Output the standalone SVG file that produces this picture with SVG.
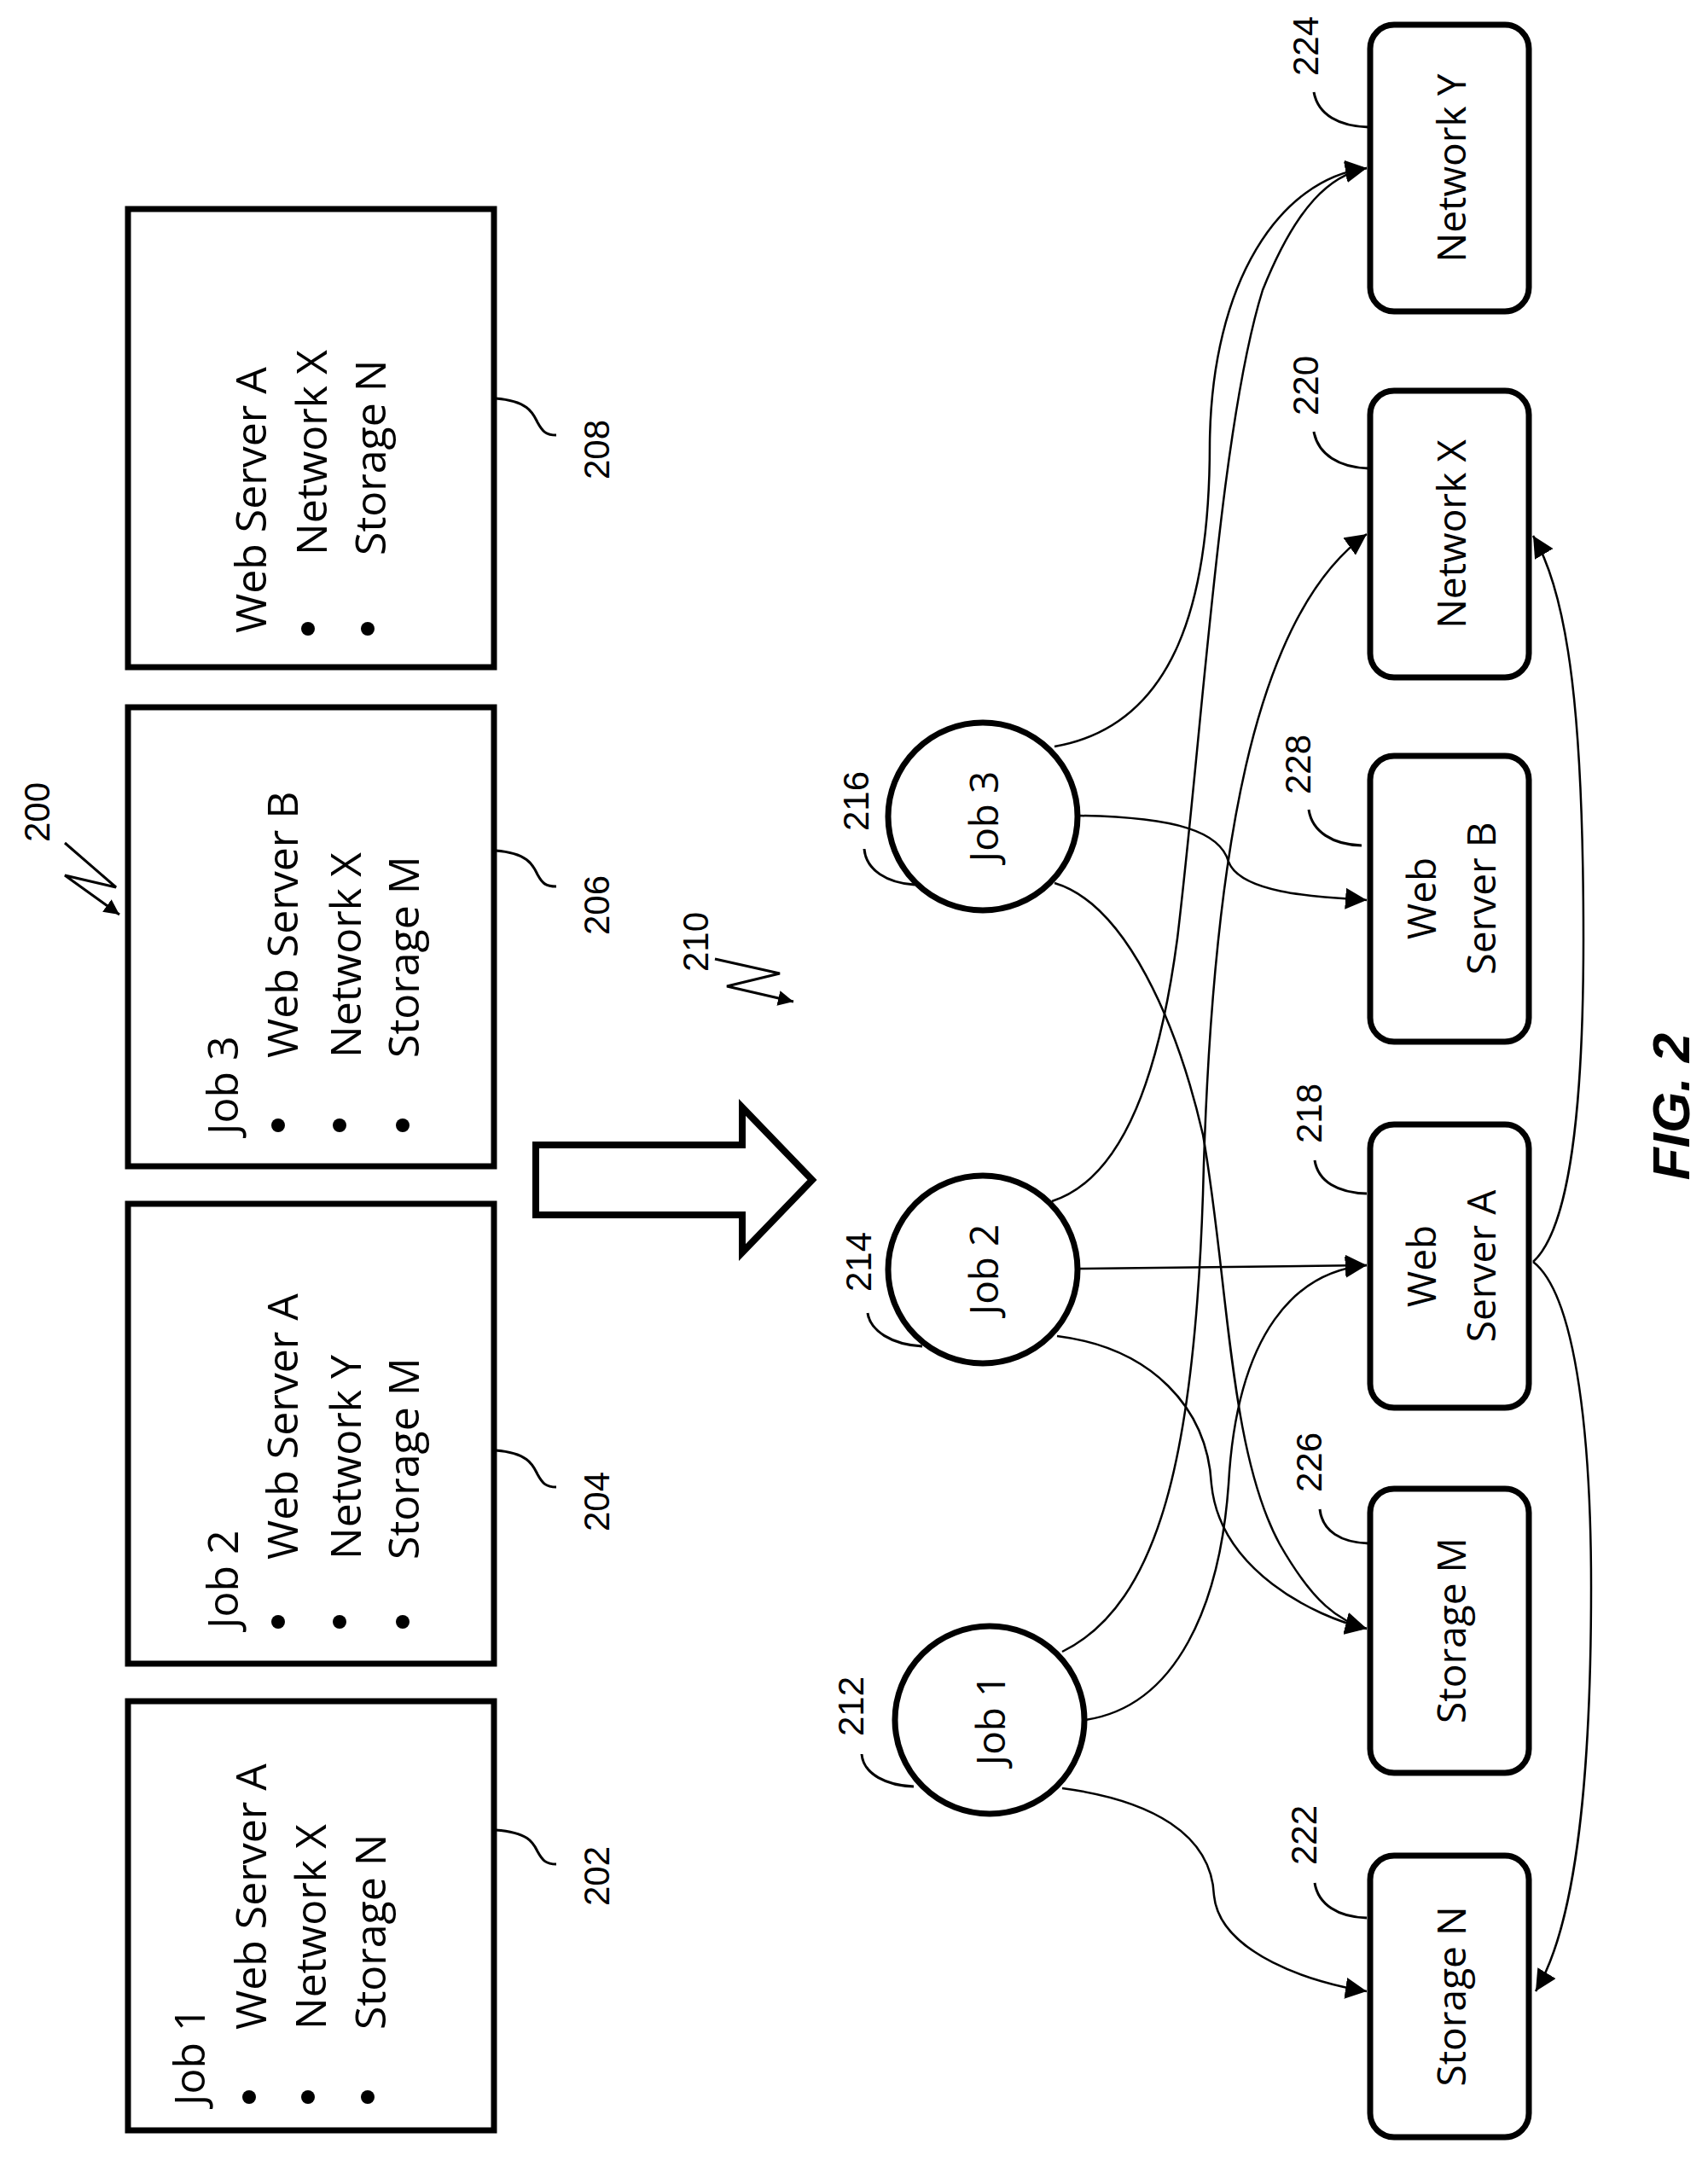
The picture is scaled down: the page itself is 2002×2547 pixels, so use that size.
<svg xmlns="http://www.w3.org/2000/svg" width="2002" height="2547" viewBox="0 0 2002 2547">
<style>
.box{fill:#fff;stroke:#000;stroke-width:7}
.rbox{fill:#fff;stroke:#000;stroke-width:7}
.t{font-family:"Open Sans",sans-serif;font-size:50px;fill:#000}
.nt{font-family:"Open Sans",sans-serif;font-size:46px;fill:#000;text-anchor:middle}
.ref{font-family:"Liberation Sans",sans-serif;font-size:42px;fill:#000;text-anchor:middle}
.ld{fill:none;stroke:#000;stroke-width:3}
.c{fill:none;stroke:#000;stroke-width:2.5}
</style>
<defs>
<marker id="ah" viewBox="0 0 10 10" refX="10" refY="5" markerWidth="18" markerHeight="18" markerUnits="userSpaceOnUse" orient="auto"><path d="M0,0 L10,5 L0,10 z" fill="#000"/></marker>
<marker id="ah2" viewBox="0 0 10 10" refX="10" refY="5" markerWidth="10" markerHeight="10" markerUnits="strokeWidth" orient="auto"><path d="M0,0 L10,5 L0,10 z" fill="#000"/></marker>
</defs>

<g id="box208">
<rect class="box" x="150" y="245" width="429" height="537"/>
<text class="t" transform="translate(312,742) rotate(-90)">Web Server A</text>
<circle cx="361" cy="737" r="8"/><circle cx="431" cy="737" r="8"/>
<text class="t" transform="translate(383,651) rotate(-90)">Network X</text>
<text class="t" transform="translate(452,651) rotate(-90)">Storage N</text>
<path class="ld" d="M581,467 C620,470 625,485 630,495 C636,506 640,510 652,510"/>
<text class="ref" transform="translate(714,527) rotate(-90)">208</text>
</g>

<g id="box206">
<rect class="box" x="150" y="829" width="429" height="538"/>
<text class="t" transform="translate(279,1330) rotate(-90)">Job 3</text>
<circle cx="326" cy="1319" r="8"/><circle cx="398" cy="1319" r="8"/><circle cx="472" cy="1319" r="8"/>
<text class="t" transform="translate(349,1240) rotate(-90)">Web Server B</text>
<text class="t" transform="translate(423,1240) rotate(-90)">Network X</text>
<text class="t" transform="translate(491,1240) rotate(-90)">Storage M</text>
<path class="ld" d="M581,997 C620,1000 625,1015 630,1025 C636,1036 640,1039 652,1039"/>
<text class="ref" transform="translate(714,1061) rotate(-90)">206</text>
</g>

<g id="box204">
<rect class="box" x="150" y="1411" width="429" height="539"/>
<text class="t" transform="translate(279,1909) rotate(-90)">Job 2</text>
<circle cx="326" cy="1901" r="8"/><circle cx="398" cy="1901" r="8"/><circle cx="472" cy="1901" r="8"/>
<text class="t" transform="translate(349,1828) rotate(-90)">Web Server A</text>
<text class="t" transform="translate(423,1828) rotate(-90)">Network Y</text>
<text class="t" transform="translate(491,1828) rotate(-90)">Storage M</text>
<path class="ld" d="M581,1700 C620,1703 625,1718 630,1728 C636,1739 640,1743 652,1743"/>
<text class="ref" transform="translate(714,1760) rotate(-90)">204</text>
</g>

<g id="box202">
<rect class="box" x="150" y="1994" width="429" height="503"/>
<text class="t" transform="translate(240,2468) rotate(-90)">Job 1</text>
<circle cx="292" cy="2458" r="8"/><circle cx="361" cy="2458" r="8"/><circle cx="431" cy="2458" r="8"/>
<text class="t" transform="translate(312,2379) rotate(-90)">Web Server A</text>
<text class="t" transform="translate(382,2379) rotate(-90)">Network X</text>
<text class="t" transform="translate(452,2379) rotate(-90)">Storage N</text>
<path class="ld" d="M581,2145 C620,2148 625,2160 630,2170 C636,2181 640,2185 652,2185"/>
<text class="ref" transform="translate(714,2199) rotate(-90)">202</text>
</g>

<g id="label200">
<text class="ref" transform="translate(58,952) rotate(-90)">200</text>
<path class="ld" d="M76,988 L136,1040 L76,1026 L140,1072" marker-end="url(#ah)"/>
</g>

<g id="label210">
<text class="ref" transform="translate(830,1104) rotate(-90)">210</text>
<path class="ld" d="M838,1124 L914,1141 L852,1156 L930,1174" marker-end="url(#ah)"/>
</g>

<g id="bigarrow">
<path d="M628,1342 L870,1342 L870,1298 L952,1383 L870,1468 L870,1424 L628,1424 Z" fill="#fff" stroke="#000" stroke-width="8"/>
</g>

<g id="job3">
<ellipse cx="1152" cy="957" rx="111" ry="110" fill="#fff" stroke="#000" stroke-width="7"/>
<text class="nt" transform="translate(1170,957) rotate(-90)">Job 3</text>
<path class="ld" d="M1013,995 C1015,1020 1040,1035 1072,1037"/>
<text class="ref" transform="translate(1018,939) rotate(-90)">216</text>
</g>
<g id="job2">
<ellipse cx="1152" cy="1488" rx="111" ry="110" fill="#fff" stroke="#000" stroke-width="7"/>
<text class="nt" transform="translate(1170,1488) rotate(-90)">Job 2</text>
<path class="ld" d="M1017,1539 C1020,1560 1045,1576 1081,1578"/>
<text class="ref" transform="translate(1021,1479) rotate(-90)">214</text>
</g>
<g id="job1">
<ellipse cx="1160" cy="2016" rx="111" ry="110" fill="#fff" stroke="#000" stroke-width="7"/>
<text class="nt" transform="translate(1178,2016) rotate(-90)">Job 1</text>
<path class="ld" d="M1010,2056 C1012,2080 1040,2093 1071,2094"/>
<text class="ref" transform="translate(1012,2000) rotate(-90)">212</text>
</g>

<g id="networkY">
<rect class="rbox" x="1606" y="29" width="186" height="336" rx="28"/>
<text class="nt" transform="translate(1718,197) rotate(-90)">Network Y</text>
<path class="ld" d="M1540,108 C1545,135 1570,148 1604,149"/>
<text class="ref" transform="translate(1545,54) rotate(-90)">224</text>
</g>
<g id="networkX">
<rect class="rbox" x="1606" y="458" width="186" height="336" rx="28"/>
<text class="nt" transform="translate(1718,626) rotate(-90)">Network X</text>
<path class="ld" d="M1540,506 C1545,533 1570,548 1604,549"/>
<text class="ref" transform="translate(1545,452) rotate(-90)">220</text>
</g>
<g id="webServerB">
<rect class="rbox" x="1606" y="886" width="186" height="335" rx="28"/>
<text class="nt" transform="translate(1683,1053) rotate(-90)">Web</text>
<text class="nt" transform="translate(1753,1053) rotate(-90)">Server B</text>
<path class="ld" d="M1534,949 C1538,975 1562,990 1596,991"/>
<text class="ref" transform="translate(1536,896) rotate(-90)">228</text>
</g>
<g id="webServerA">
<rect class="rbox" x="1606" y="1318" width="186" height="332" rx="28"/>
<text class="nt" transform="translate(1683,1484) rotate(-90)">Web</text>
<text class="nt" transform="translate(1753,1484) rotate(-90)">Server A</text>
<path class="ld" d="M1541,1360 C1545,1385 1568,1398 1602,1399"/>
<text class="ref" transform="translate(1549,1305) rotate(-90)">218</text>
</g>
<g id="storageM">
<rect class="rbox" x="1606" y="1745" width="186" height="333" rx="28"/>
<text class="nt" transform="translate(1718,1911) rotate(-90)">Storage M</text>
<path class="ld" d="M1547,1769 C1550,1795 1572,1808 1604,1809"/>
<text class="ref" transform="translate(1549,1714) rotate(-90)">226</text>
</g>
<g id="storageN">
<rect class="rbox" x="1606" y="2175" width="186" height="330" rx="28"/>
<text class="nt" transform="translate(1718,2340) rotate(-90)">Storage N</text>
<path class="ld" d="M1541,2207 C1545,2232 1568,2247 1602,2248"/>
<text class="ref" transform="translate(1543,2151) rotate(-90)">222</text>
</g>

<g id="connectors">
<path class="c" marker-end="url(#ah2)" d="M1236,875 C1380,850 1418,700 1418,520 C1420,330 1500,210 1602,197"/>
<path class="c" marker-end="url(#ah2)" d="M1265,956 C1380,958 1430,975 1440,1010 C1455,1050 1560,1052 1602,1055"/>
<path class="c" marker-end="url(#ah2)" d="M1236,1035 C1320,1060 1380,1200 1410,1330 C1440,1500 1440,1700 1500,1810 C1540,1880 1570,1900 1602,1909"/>
<path class="c" marker-end="url(#ah2)" d="M1233,1408 C1320,1380 1360,1250 1380,1100 C1410,850 1430,500 1480,340 C1520,240 1560,205 1602,197"/>
<path class="c" marker-end="url(#ah2)" d="M1245,1936 C1360,1880 1400,1700 1410,1400 C1420,1000 1470,720 1602,626"/>
<path class="c" marker-end="url(#ah2)" d="M1272,2016 C1380,2000 1430,1880 1440,1740 C1450,1560 1520,1490 1602,1483"/>
<path class="c" marker-end="url(#ah2)" d="M1265,1487 L1602,1483"/>
<path class="c" marker-end="url(#ah2)" d="M1239,1566 C1350,1580 1415,1650 1420,1740 C1430,1840 1540,1895 1602,1909"/>
<path class="c" marker-end="url(#ah2)" d="M1245,2096 C1350,2110 1420,2150 1423,2222 C1430,2290 1540,2325 1602,2334"/>
<path class="c" marker-end="url(#ah2)" d="M1797,1479 C1850,1520 1865,1700 1865,1860 C1865,2100 1845,2260 1800,2334"/>
<path class="c" marker-end="url(#ah2)" d="M1797,1479 C1840,1440 1856,1300 1856,1100 C1856,850 1840,700 1797,628"/>
</g>

<text transform="translate(1980,1297) rotate(-90)" font-family="Liberation Sans,sans-serif" font-size="62" font-weight="bold" font-style="italic" text-anchor="middle">FIG. 2</text>
</svg>
